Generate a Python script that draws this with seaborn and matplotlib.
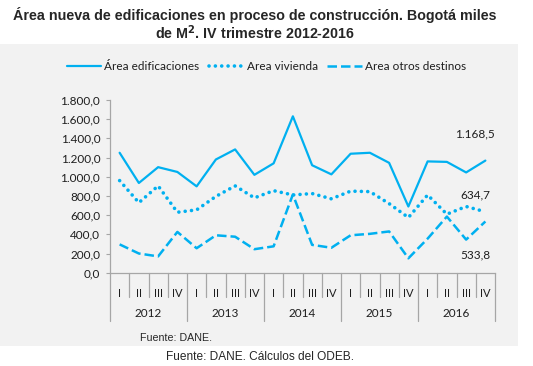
import matplotlib
matplotlib.use("Agg")
import matplotlib.pyplot as plt
from matplotlib.patches import Rectangle
import seaborn as sns
import pandas as pd

# datos (miles de m2)
trimestres = ["I", "II", "III", "IV"] * 5
anios = ["2012", "2013", "2014", "2015", "2016"]
area_edificaciones = [1250, 935, 1100, 1050, 900, 1180, 1285, 1020, 1140, 1630,
                      1120, 1025, 1240, 1250, 1145, 690, 1160, 1155, 1045, 1168.5]
area_vivienda = [960, 730, 905, 630, 655, 795, 905, 780, 855, 810,
                 825, 770, 850, 845, 720, 575, 810, 610, 690, 634.7]
area_otros = [295, 200, 170, 425, 255, 390, 375, 245, 275, 815,
              290, 260, 390, 405, 430, 150, 355, 585, 345, 533.8]
etiquetas_final = ["1.168,5", "634,7", "533,8"]

df = pd.DataFrame({"pos": range(len(trimestres)),
                   "edif": area_edificaciones,
                   "viv": area_vivienda,
                   "otros": area_otros})

azul = "#00B0F0"
texto = "#1E1E1E"
gris = "#A6A6A6"

sns.set_style("white")
plt.rcParams["font.family"] = ["Lato", "DejaVu Sans"]

fig = plt.figure(figsize=(5.33, 3.66), dpi=100)
fig.patch.set_facecolor("white")
# panel gris de fondo
fig.patches.append(Rectangle((0, 1 - 346 / 366), 518 / 533, 302 / 366,
                             transform=fig.transFigure, fc="#F2F2F2", ec="none", zorder=-5))

ax = fig.add_axes([110 / 533, 1 - 272.7 / 366, 385 / 533, 172.7 / 366])
ax.set_facecolor("none")
ax.set_zorder(2)

sns.lineplot(data=df, x="pos", y="edif", ax=ax, color=azul, linewidth=1.6,
             label="Área edificaciones")
sns.lineplot(data=df, x="pos", y="viv", ax=ax, color=azul, linewidth=2.6,
             linestyle=(0, (0.01, 1.75)), dash_capstyle="round", label="Area vivienda")
sns.lineplot(data=df, x="pos", y="otros", ax=ax, color=azul, linewidth=1.8,
             linestyle=(0, (3.8, 1.6)), label="Area otros destinos")

ax.set_xlim(-0.5, len(trimestres) - 0.5)
ax.set_ylim(0, 1800)
ax.set_yticks(range(0, 1801, 200))
ax.set_yticklabels([f"{v:,.1f}".replace(",", "X").replace(".", ",").replace("X", ".")
                    for v in range(0, 1801, 200)])
ax.set_xticks(range(len(trimestres)))
ax.set_xticklabels(trimestres)
ax.tick_params(axis="x", length=0, pad=11, labelsize=8, labelcolor=texto)
ax.tick_params(axis="y", length=3, width=0.8, color=gris, pad=4, labelsize=8.5,
               labelcolor=texto, left=True)
ax.set_xlabel("")
ax.set_ylabel("")
for s in ["top", "right"]:
    ax.spines[s].set_visible(False)
for s in ["left", "bottom"]:
    ax.spines[s].set_color(gris)
    ax.spines[s].set_linewidth(0.9)

# separadores de trimestres y anios
trans = ax.get_xaxis_transform()
for k in range(len(trimestres) + 1):
    largo = -0.28 if k % 4 == 0 else -0.14
    ax.plot([k - 0.5, k - 0.5], [0, largo], transform=trans, color=gris,
            linewidth=0.9, clip_on=False)
for i, anio in enumerate(anios):
    ax.text(i * 4 + 1.5, -0.239, anio, transform=trans, ha="center", va="center",
            fontsize=8.5, color=texto)

# etiquetas del ultimo valor
ultimo = len(trimestres) - 1
for serie, etq, dy in zip([area_edificaciones, area_vivienda, area_otros],
                          etiquetas_final, [27, 17, -33]):
    ax.annotate(etq, (ultimo, serie[-1]), xytext=(-10, dy), textcoords="offset pixels",
                ha="center", va="center", fontsize=8.5, color=texto)

h, l = ax.get_legend_handles_labels()
ax.get_legend().remove()
fig.legend(h, l, loc="center", bbox_to_anchor=(0.5, 1 - 67 / 366), ncol=3,
           frameon=False, fontsize=8.5, handlelength=2.9, handletextpad=0.3,
           columnspacing=0.8, labelcolor=texto)

fig.text(255 / 533, 1 - 15 / 366,
         "Área nueva de edificaciones en proceso de construcción. Bogotá miles",
         ha="center", va="center", fontsize=10.3, fontweight="bold",
         family=["Liberation Sans", "DejaVu Sans"])
fig.text(255 / 533, 1 - 33 / 366, r"de M$^{\mathbf{2}}$. IV trimestre 2012-2016",
         ha="center", va="center", fontsize=10.3, fontweight="bold",
         family=["Liberation Sans", "DejaVu Sans"])
fig.text(140 / 533, 1 - 338 / 366, "Fuente: DANE.", ha="left", va="center",
         fontsize=7.7, family=["Liberation Sans", "DejaVu Sans"])
fig.text(260 / 533, 1 - 357 / 366, "Fuente: DANE. Cálculos del ODEB.", ha="center",
         va="center", fontsize=8.6, family=["Liberation Sans", "DejaVu Sans"])

fig.savefig("out.png", dpi=100)
